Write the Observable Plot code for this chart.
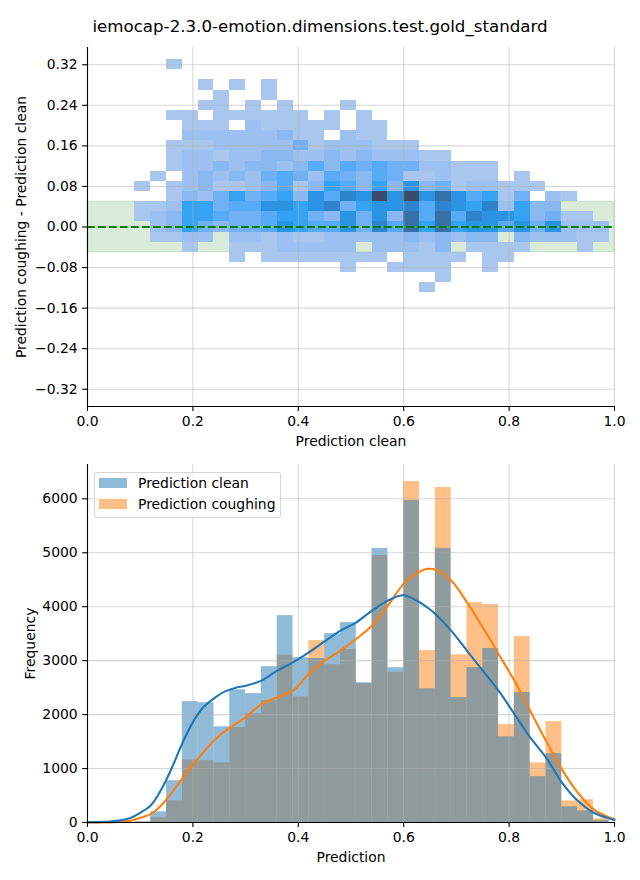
<!DOCTYPE html>
<html>
<head>
<meta charset="utf-8">
<script src="https://cdn.jsdelivr.net/npm/d3@7"></script>
<script src="https://cdn.jsdelivr.net/npm/@observablehq/plot@0.6"></script>
<style>
  body { margin: 0; background: #fff; font-family: "DejaVu Sans", sans-serif; }
  #fig { position: relative; width: 640px; height: 880px; overflow: hidden; background: #fff; }
  #title { position: absolute; left: 0; top: 17px; width: 640px; text-align: center;
           font-size: 16.67px; line-height: 20px; color: #000; }
  .panel { position: absolute; left: 0; }
  #legend { position: absolute; left: 94px; top: 472px; width: 187px; height: 46px;
            box-sizing: border-box; border: 1px solid rgba(204,204,204,0.8); border-radius: 3px;
            background: rgba(255,255,255,0.8); }
  .sw { position: absolute; left: 4px; width: 28px; height: 10px; }
  .lt { position: absolute; left: 43px; font-size: 13.9px; line-height: 16px; color: #000; white-space: nowrap; }
</style>
</head>
<body>
<div id="fig">
  <div id="title">iemocap-2.3.0-emotion.dimensions.test.gold_standard</div>
  <div id="top" class="panel" style="top:40px"></div>
  <div id="bottom" class="panel" style="top:460px"></div>
  <div id="legend">
    <div class="sw" style="top:5px;background:rgba(31,119,180,0.5)"></div>
    <div class="lt" style="top:2px">Prediction clean</div>
    <div class="sw" style="top:26px;background:rgba(255,127,14,0.5)"></div>
    <div class="lt" style="top:23px">Prediction coughing</div>
  </div>
</div>
<script>
// ---------- data ----------
const xTicks = [0, 0.2, 0.4, 0.6, 0.8, 1.0];
const diffTicks = [-0.32, -0.24, -0.16, -0.08, 0, 0.08, 0.16, 0.24, 0.32];
const freqTicks = [0, 1000, 2000, 3000, 4000, 5000, 6000];
const xDomain = [0, 1];
const diffDomain = [-0.354, 0.354];
const freqDomain = [0, 6636];

// shared bins for prediction (x)
const binStart = 0.09;
const binWidth = 0.03;
// bins for difference (y) in the 2D histogram
const diffBinStart = -0.13;
const diffBinHeight = 0.02;
const toleranceBand = [-0.05, 0.05];
const zeroLine = [0];

// 2D histogram density level per cell (0 = empty), rows from bottom (-0.13) to top (0.33)
const densityLevels = [1, 2, 3, 4, 5, 6, 7, 8, 9, 10, 11];
const levelColors = ["#a9c7ee", "#9cc1f0", "#8ab9f2", "#70b1f5", "#56aaf6", "#36a2f2",
                     "#2b94e2", "#2d84cc", "#3570a6", "#395d8a", "#3c4c6c"];
const heatmapRows = [
  [0,0,0,0,0,0,0,0,0,0, 0,0,0,0,0,0,0,0,1,0, 0,0,0,0,0,0,0,0,0,0],
  [0,0,0,0,0,0,0,0,0,0, 0,0,0,0,0,0,0,0,0,1, 0,0,0,0,0,0,0,0,0,0],
  [0,0,0,0,0,0,0,0,0,0, 0,0,0,1,0,0,1,1,1,1, 0,0,1,0,0,0,0,0,0,0],
  [0,0,0,0,0,0,1,0,1,1, 1,1,1,1,1,1,0,1,1,1, 1,0,1,1,0,0,0,0,0,0],
  [0,0,0,1,0,0,1,1,1,2, 2,2,2,2,0,2,2,2,1,3, 0,1,1,1,1,0,0,0,1,0],
  [0,1,1,2,2,0,2,2,1,2, 1,1,2,2,2,2,2,3,2,3, 2,3,3,0,3,2,2,2,1,1],
  [0,2,3,6,4,3,4,4,5,7, 6,5,5,7,4,8,5,9,6,9, 6,7,7,5,7,4,7,2,2,2],
  [1,2,3,6,6,5,4,4,5,6, 6,4,3,7,4,7,3,9,5,9, 5,8,7,7,6,3,4,1,1,0],
  [1,1,2,6,6,4,5,5,7,7, 6,7,8,4,6,7,7,8,5,8, 7,6,8,2,6,3,3,0,0,0],
  [0,0,1,3,2,4,6,4,5,6, 3,7,5,8,7,11,7,11,7,9, 7,5,6,1,4,0,2,1,0,0],
  [1,0,1,2,3,1,1,2,3,5, 1,3,6,5,3,6,3,7,3,4, 1,2,2,1,1,1,0,0,0,0],
  [0,1,0,2,3,2,3,2,4,5, 4,2,5,4,3,5,4,1,1,2, 1,1,1,0,1,0,0,0,0,0],
  [0,0,1,2,2,3,2,3,3,2, 3,5,3,5,4,5,4,4,2,2, 1,1,1,0,0,0,0,0,0,0],
  [0,0,1,2,2,1,2,2,3,3, 2,2,3,2,3,2,2,2,1,1, 0,0,0,0,0,0,0,0,0,0],
  [0,0,1,1,1,2,2,2,2,2, 4,1,2,2,2,1,1,1,0,0, 0,0,0,0,0,0,0,0,0,0],
  [0,0,0,2,2,2,2,2,2,3, 1,1,0,2,1,1,0,0,0,0, 0,0,0,0,0,0,0,0,0,0],
  [0,0,0,1,1,1,0,2,1,1, 1,1,1,0,1,1,0,0,0,0, 0,0,0,0,0,0,0,0,0,0],
  [0,0,1,1,0,1,1,1,1,1, 1,0,1,0,1,0,0,0,0,0, 0,0,0,0,0,0,0,0,0,0],
  [0,0,0,0,1,1,0,1,0,1, 0,0,0,1,0,0,0,0,0,0, 0,0,0,0,0,0,0,0,0,0],
  [0,0,0,0,0,1,0,0,1,0, 0,0,0,0,0,0,0,0,0,0, 0,0,0,0,0,0,0,0,0,0],
  [0,0,0,0,1,0,1,0,1,0, 0,0,0,0,0,0,0,0,0,0, 0,0,0,0,0,0,0,0,0,0],
  [0,0,0,0,0,0,0,0,0,0, 0,0,0,0,0,0,0,0,0,0, 0,0,0,0,0,0,0,0,0,0],
  [0,0,1,0,0,0,0,0,0,0, 0,0,0,0,0,0,0,0,0,0, 0,0,0,0,0,0,0,0,0,0]
];

// 1D histograms (30 bins, 0.09 .. 0.99)
const countsClean = [15, 198, 774, 2240, 2220, 1775, 2460, 2390, 2890, 3835,
                     3055, 3040, 3500, 3705, 2590, 5080, 2870, 5970, 2480, 5080,
                     2315, 2870, 3225, 1590, 2410, 850, 1275, 290, 215, 35];
const countsCoughing = [5, 93, 403, 1160, 1145, 1105, 1760, 2015, 2260, 3100,
                        2330, 3370, 2925, 3205, 2575, 4950, 2785, 6320, 3185, 6210,
                        3110, 4075, 4040, 1815, 3445, 1105, 1870, 400, 420, 70];

// KDE curves (scaled to counts)
const kdeX = [0, 0.03, 0.06, 0.08, 0.10, 0.12, 0.14, 0.16, 0.18, 0.20,
              0.22, 0.24, 0.26, 0.28, 0.30, 0.33, 0.36, 0.39, 0.42, 0.45,
              0.48, 0.51, 0.54, 0.57, 0.60, 0.63, 0.645, 0.66, 0.69, 0.72,
              0.75, 0.78, 0.81, 0.84, 0.87, 0.90, 0.93, 0.96, 0.99, 1.0];
const kdeClean = [5, 12, 35, 80, 180, 315, 610, 1010, 1470, 1860,
                  2140, 2300, 2425, 2495, 2535, 2629, 2814, 2969, 3154, 3358,
                  3557, 3711, 3928, 4113, 4212, 4082, 3985, 3866, 3557, 3186,
                  2814, 2443, 2011, 1577, 1206, 742, 403, 186, 74, 49];
const kdeCoughing = [0, 2, 8, 30, 90, 155, 320, 555, 815, 1075,
                     1300, 1520, 1690, 1820, 1950, 2196, 2319, 2443, 2753, 3000,
                     3186, 3402, 3650, 4020, 4423, 4651, 4701, 4689, 4484, 4082,
                     3618, 3124, 2629, 2072, 1515, 990, 557, 248, 93, 62];

// ---------- derived tables ----------
const cells = [];
heatmapRows.forEach((row, j) => row.forEach((level, c) => {
  if (level > 0) cells.push({
    x1: binStart + c * binWidth, x2: binStart + (c + 1) * binWidth,
    y1: diffBinStart + j * diffBinHeight, y2: diffBinStart + (j + 1) * diffBinHeight,
    level
  });
}));
const bins = countsClean.map((v, i) => ({
  x1: binStart + i * binWidth, x2: binStart + (i + 1) * binWidth,
  clean: v, cough: countsCoughing[i]
}));
const kde = kdeX.map((x, i) => ({x, clean: kdeClean[i], cough: kdeCoughing[i]}));

const FS = 13.9;
const gridStyle = {stroke: "#b0b0b0", strokeOpacity: 0.5, strokeWidth: 1.1};
const axisStyle = {tickSize: 4.9, tickPadding: 4.9, fontSize: FS, strokeWidth: 1.1, label: null};
const plotStyle = {fontFamily: "DejaVu Sans", fontSize: FS + "px", color: "black", background: "transparent", overflow: "visible"};

// ---------- top panel ----------
const topPlot = Plot.plot({
  width: 640, height: 420,
  marginTop: 7, marginBottom: 54, marginLeft: 87, marginRight: 26,
  style: plotStyle,
  x: {domain: xDomain},
  y: {domain: diffDomain},
  color: {type: "ordinal", domain: densityLevels, range: levelColors},
  marks: [
    Plot.rect([toleranceBand], {y1: d => d[0], y2: d => d[1], fill: "green", fillOpacity: 0.15,
      stroke: "green", strokeOpacity: 0.12, strokeWidth: 1.2}),
    Plot.rect(cells, {x1: "x1", x2: "x2", y1: "y1", y2: "y2", fill: "level", inset: 0, shapeRendering: "crispEdges"}),
    Plot.gridX(xTicks, gridStyle),
    Plot.gridY(diffTicks, gridStyle),
    Plot.ruleY(zeroLine, {stroke: "green", strokeWidth: 2.1, strokeDasharray: "7.7,3.3"}),
    Plot.axisX(xTicks, {...axisStyle, tickFormat: d3.format(".1f")}),
    Plot.axisY(diffTicks, {...axisStyle, tickFormat: d3.format(".2f")}),
    Plot.ruleX([xDomain[0]], {stroke: "black", strokeWidth: 1.1}),
    Plot.ruleY([diffDomain[0]], {stroke: "black", strokeWidth: 1.1}),
    Plot.text(["Prediction clean"], {frameAnchor: "bottom", dy: 35, lineAnchor: "middle", fontSize: FS, fill: "black"}),
    Plot.text(["Prediction coughing - Prediction clean"], {frameAnchor: "left", dx: -66, rotate: -90,
      textAnchor: "middle", lineAnchor: "middle", fontSize: FS, fill: "black"})
  ]
});
document.getElementById("top").appendChild(topPlot);

// ---------- bottom panel ----------
const bottomPlot = Plot.plot({
  width: 640, height: 420,
  marginTop: 4, marginBottom: 58, marginLeft: 87, marginRight: 26,
  style: plotStyle,
  x: {domain: xDomain},
  y: {domain: freqDomain},
  marks: [
    Plot.rectY(bins, {x1: "x1", x2: "x2", y: "cough", fill: "#ff7f0e", fillOpacity: 0.5, inset: 0}),
    Plot.rectY(bins, {x1: "x1", x2: "x2", y: "clean", fill: "#1f77b4", fillOpacity: 0.5, inset: 0}),
    Plot.gridX(xTicks, gridStyle),
    Plot.gridY(freqTicks, gridStyle),
    Plot.line(kde, {x: "x", y: "cough", stroke: "#ff7f0e", strokeWidth: 2.1, curve: "catmull-rom"}),
    Plot.line(kde, {x: "x", y: "clean", stroke: "#1f77b4", strokeWidth: 2.1, curve: "catmull-rom"}),
    Plot.axisX(xTicks, {...axisStyle, tickFormat: d3.format(".1f")}),
    Plot.axisY(freqTicks, {...axisStyle, tickFormat: d3.format("d")}),
    Plot.ruleX([xDomain[0]], {stroke: "black", strokeWidth: 1.1}),
    Plot.ruleY([freqDomain[0]], {stroke: "black", strokeWidth: 1.1}),
    Plot.text(["Prediction"], {frameAnchor: "bottom", dy: 35, lineAnchor: "middle", fontSize: FS, fill: "black"}),
    Plot.text(["Frequency"], {frameAnchor: "left", dx: -57, rotate: -90,
      textAnchor: "middle", lineAnchor: "middle", fontSize: FS, fill: "black"})
  ]
});
document.getElementById("bottom").appendChild(bottomPlot);
</script>
</body>
</html>
